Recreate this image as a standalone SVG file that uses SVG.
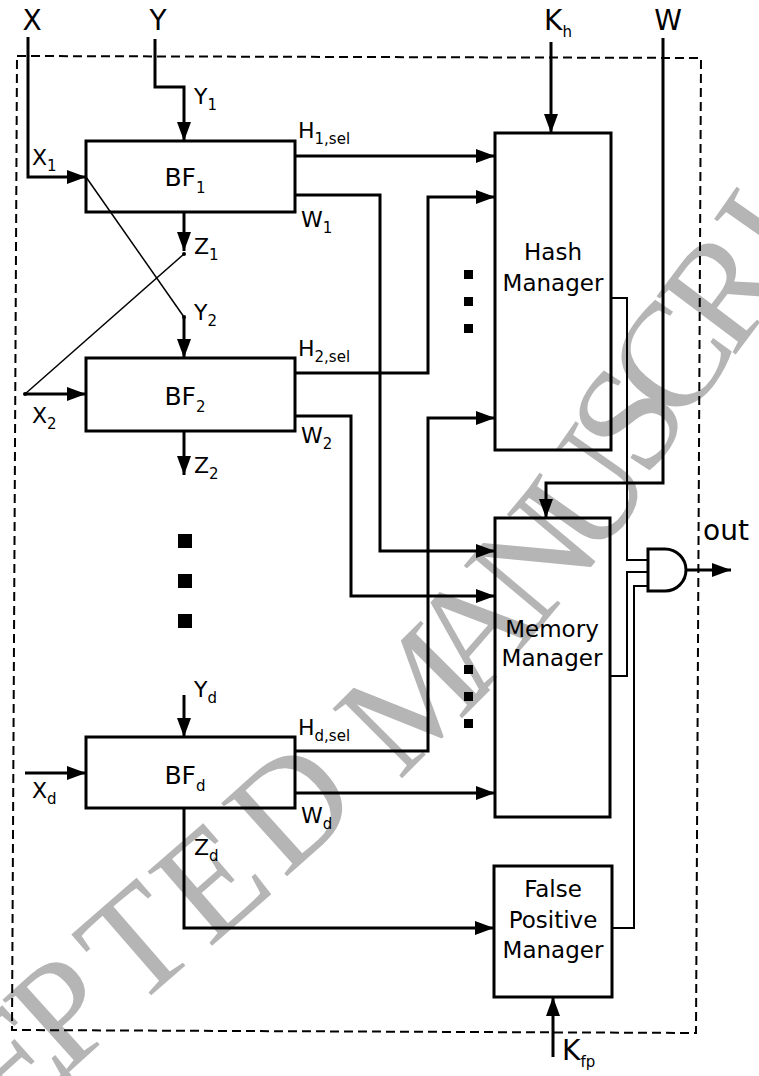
<svg xmlns="http://www.w3.org/2000/svg" width="759" height="1076" viewBox="0 0 759 1076">
<style>
text{font-family:"DejaVu Sans","Liberation Sans",sans-serif;fill:#000}
.big{font-size:28px}
.lbl{font-size:22px}
.box{font-size:23px}
.bf{font-size:25px}
.sub{font-size:15px}
#watermark text{font-family:"Liberation Serif","Times New Roman",serif;font-size:150px;fill:#b5b5b5;text-anchor:middle;dominant-baseline:central}
.node rect,.node path{fill:none;stroke:#000;stroke-width:3}
.w{fill:none;stroke:#000;stroke-width:3}
.t{fill:none;stroke:#000;stroke-width:2}
.d{fill:none;stroke:#000;stroke-width:1.5}
.frame{fill:none;stroke:#000;stroke-width:2;stroke-dasharray:9,5}
</style>
<defs>
<marker id="ah" markerUnits="userSpaceOnUse" markerWidth="21" markerHeight="15" refX="19" refY="7" orient="auto">
<path d="M0,0 L19,7 L0,14 z" fill="#000"/>
</marker>
</defs>
<rect width="759" height="1076" fill="#fff"/>

<g id="watermark">
<text x="10" y="1062" transform="rotate(-42 10 1062)">E</text>
<text x="62" y="1010" transform="rotate(-42 62 1010)">P</text>
<text x="135" y="942" transform="rotate(-41 135 942)">T</text>
<text x="210" y="880" transform="rotate(-41 210 880)">E</text>
<text x="290" y="805" transform="rotate(-42 290 805)">D</text>
<text x="410" y="698" transform="rotate(-45 410 698)">M</text>
<text x="472" y="628" transform="rotate(-49 472 628)">A</text>
<text x="532" y="558" transform="rotate(-50 532 558)">N</text>
<text x="585" y="490" transform="rotate(-55 585 490)">U</text>
<text x="627" y="418" transform="rotate(-57 627 418)">S</text>
<text x="669" y="358" transform="rotate(-55 669 358)">C</text>
<text x="722" y="288" transform="rotate(-53 722 288)">R</text>
<text x="764" y="230" transform="rotate(-55 764 230)">I</text>
</g>

<polygon class="frame" points="17,56 701,58 696,1033 12,1030"/>

<g id="connectors">
<polyline class="w" points="28,37 28,177 86,177" marker-end="url(#ah)"/>
<polyline class="w" points="155,39 155,87 184,87 184,141" marker-end="url(#ah)"/>
<line class="w" x1="551" y1="42" x2="551" y2="133" marker-end="url(#ah)"/>
<polyline class="w" points="663,38 663,483 546,483 546,518" marker-end="url(#ah)"/>
<line class="w" x1="184" y1="212" x2="184" y2="251" marker-end="url(#ah)"/>
<line class="d" x1="86" y1="177" x2="184" y2="317"/>
<line class="d" x1="184" y1="254" x2="25" y2="394"/>
<circle cx="184" cy="254" r="2"/>
<circle cx="184" cy="317" r="2"/>
<circle cx="25" cy="394" r="2"/>
<line class="w" x1="184" y1="317" x2="184" y2="358" marker-end="url(#ah)"/>
<line class="w" x1="25" y1="394" x2="86" y2="394" marker-end="url(#ah)"/>
<line class="w" x1="184" y1="431" x2="184" y2="475" marker-end="url(#ah)"/>
<line class="w" x1="184" y1="695" x2="184" y2="737" marker-end="url(#ah)"/>
<line class="w" x1="25" y1="773" x2="86" y2="773" marker-end="url(#ah)"/>
<polyline class="w" points="295,156 495,156" marker-end="url(#ah)"/>
<polyline class="w" points="295,195 380,195 380,551 495,551" marker-end="url(#ah)"/>
<polyline class="w" points="295,373 428,373 428,197 495,197" marker-end="url(#ah)"/>
<polyline class="w" points="295,416 351,416 351,596 495,596" marker-end="url(#ah)"/>
<polyline class="w" points="295,751 428,751 428,418 495,418" marker-end="url(#ah)"/>
<polyline class="w" points="295,793 495,793" marker-end="url(#ah)"/>
<polyline class="w" points="184,808 184,928 494,928" marker-end="url(#ah)"/>
<line class="w" x1="553" y1="1057" x2="553" y2="997" marker-end="url(#ah)"/>
<polyline class="t" points="611,298 627,298 627,560 648,560"/>
<polyline class="t" points="610,676 627,676 627,572 648,572"/>
<polyline class="t" points="612,928 634,928 634,586 648,586"/>
<line class="w" x1="686" y1="570" x2="731" y2="570" marker-end="url(#ah)"/>
</g>

<g id="bf1" class="node">
<rect x="86" y="141" width="209" height="71"/>
<text class="bf" x="185" y="186" text-anchor="middle">BF<tspan class="sub" dy="7">1</tspan></text>
</g>
<g id="bf2" class="node">
<rect x="86" y="358" width="209" height="73"/>
<text class="bf" x="185" y="405" text-anchor="middle">BF<tspan class="sub" dy="7">2</tspan></text>
</g>
<g id="bfd" class="node">
<rect x="86" y="737" width="209" height="71"/>
<text class="bf" x="185" y="784" text-anchor="middle">BF<tspan class="sub" dy="7">d</tspan></text>
</g>
<g id="hash" class="node">
<rect x="495" y="133" width="116" height="317"/>
<text class="box" x="553" y="260" text-anchor="middle">Hash</text>
<text class="box" x="553" y="291" text-anchor="middle">Manager</text>
</g>
<g id="memory" class="node">
<rect x="495" y="518" width="115" height="299"/>
<text class="box" x="552" y="637" text-anchor="middle">Memory</text>
<text class="box" x="552" y="666" text-anchor="middle">Manager</text>
</g>
<g id="fp" class="node">
<rect x="494" y="866" width="118" height="131"/>
<text class="box" x="553" y="897" text-anchor="middle">False</text>
<text class="box" x="553" y="928" text-anchor="middle">Positive</text>
<text class="box" x="553" y="958" text-anchor="middle">Manager</text>
</g>
<g id="and" class="node">
<path d="M648,549 L665,549 A21,21 0 0 1 665,591 L648,591 Z" fill="#fff"/>
</g>

<g id="dots">
<rect x="178" y="534" width="14" height="14"/>
<rect x="178" y="574" width="14" height="14"/>
<rect x="178" y="614" width="14" height="14"/>
<rect x="464" y="270" width="9" height="9"/>
<rect x="464" y="297" width="9" height="9"/>
<rect x="464" y="324" width="9" height="9"/>
<rect x="464" y="665" width="9" height="9"/>
<rect x="464" y="692" width="9" height="9"/>
<rect x="464" y="719" width="9" height="9"/>
</g>

<g id="labels">
<text class="big" x="32" y="30" text-anchor="middle">X</text>
<text class="big" x="158" y="30" text-anchor="middle">Y</text>
<text class="big" x="544" y="30">K<tspan class="sub" font-size="19" dy="7">h</tspan></text>
<text class="big" x="668" y="30" text-anchor="middle">W</text>
<text class="big" x="703" y="540" font-size="30">out</text>
<text class="big" x="562" y="1060">K<tspan class="sub" font-size="19" dy="7">fp</tspan></text>
<text class="lbl" x="194" y="104">Y<tspan class="sub" dy="6">1</tspan></text>
<text class="lbl" x="32" y="165">X<tspan class="sub" dy="6">1</tspan></text>
<text class="lbl" x="298" y="138">H<tspan class="sub" dy="6">1,sel</tspan></text>
<text class="lbl" x="301" y="227">W<tspan class="sub" dy="6">1</tspan></text>
<text class="lbl" x="194" y="254">Z<tspan class="sub" dy="6">1</tspan></text>
<text class="lbl" x="194" y="320">Y<tspan class="sub" dy="6">2</tspan></text>
<text class="lbl" x="298" y="356">H<tspan class="sub" dy="6">2,sel</tspan></text>
<text class="lbl" x="32" y="423">X<tspan class="sub" dy="6">2</tspan></text>
<text class="lbl" x="301" y="443">W<tspan class="sub" dy="6">2</tspan></text>
<text class="lbl" x="194" y="473">Z<tspan class="sub" dy="6">2</tspan></text>
<text class="lbl" x="194" y="697">Y<tspan class="sub" dy="6">d</tspan></text>
<text class="lbl" x="298" y="735">H<tspan class="sub" dy="6">d,sel</tspan></text>
<text class="lbl" x="32" y="798">X<tspan class="sub" dy="6">d</tspan></text>
<text class="lbl" x="301" y="823">W<tspan class="sub" dy="6">d</tspan></text>
<text class="lbl" x="194" y="855">Z<tspan class="sub" dy="6">d</tspan></text>
</g>
</svg>
